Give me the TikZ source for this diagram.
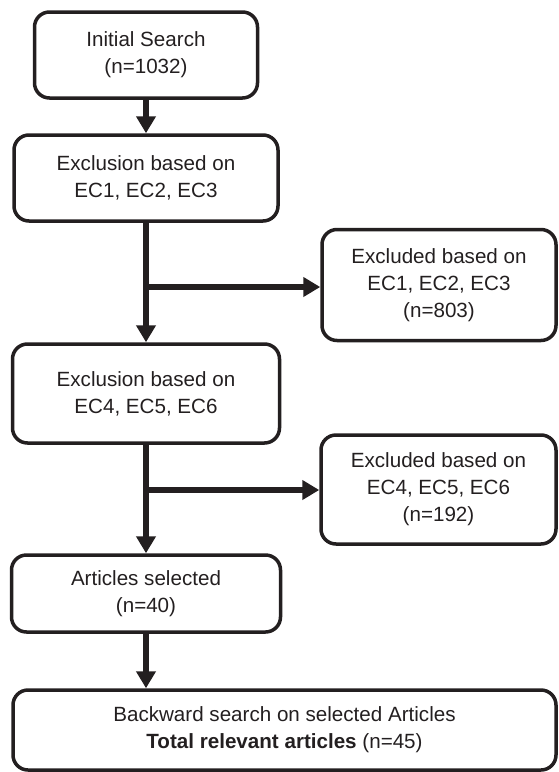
\documentclass[tikz,border=0pt]{standalone}
\usepackage{fontspec}
\setmainfont{Liberation Sans}
\usetikzlibrary{arrows.meta}
\definecolor{ink}{HTML}{231F20}
\begin{document}
\begin{tikzpicture}[x=1pt,y=-1pt,
  box/.style={draw=ink, line width=3.5pt, rounded corners=15pt, align=center,
    text=ink, font=\fontsize{20.6}{27}\selectfont, inner sep=0pt},
  arr/.style={draw=ink, line width=6pt, -{Triangle[length=17pt,width=19pt]}}]
\useasboundingbox (0,0) rectangle (559,772);
\node[box, minimum width=223pt, minimum height=86pt] (b1) at (146,55) {Initial Search\\(n=1032)};
\node[box, minimum width=264pt, minimum height=86pt] (b2) at (146,178) {Exclusion based on\\EC1, EC2, EC3};
\node[box, minimum width=234pt, minimum height=111pt] (e1) at (439,285) {Excluded based on\\EC1, EC2, EC3\\(n=803)};
\node[box, minimum width=267pt, minimum height=99pt] (b3) at (146,393.5) {Exclusion based on\\EC4, EC5, EC6};
\node[box, minimum width=235pt, minimum height=109pt] (e2) at (438.5,489.5) {Excluded based on\\EC4, EC5, EC6\\(n=192)};
\node[box, minimum width=269pt, minimum height=77pt] (b4) at (146,593.5) {Articles selected\\(n=40)};
\node[box, minimum width=543pt, minimum height=80pt] (b5) at (284.5,730) {Backward search on selected Articles\\\textbf{Total relevant articles} (n=45)};
\coordinate (j1) at (146,287);
\coordinate (j2) at (146,490);
\draw[arr] (b1.south) -- (b2.north);
\draw[arr] (b2.south) -- (b3.north);
\draw[arr] (j1) -- (j1 -| e1.west);
\draw[arr] (b3.south) -- (b4.north);
\draw[arr] (j2) -- (j2 -| e2.west);
\draw[arr] (b4.south) -- (b4.south |- b5.north);
\end{tikzpicture}
\end{document}
